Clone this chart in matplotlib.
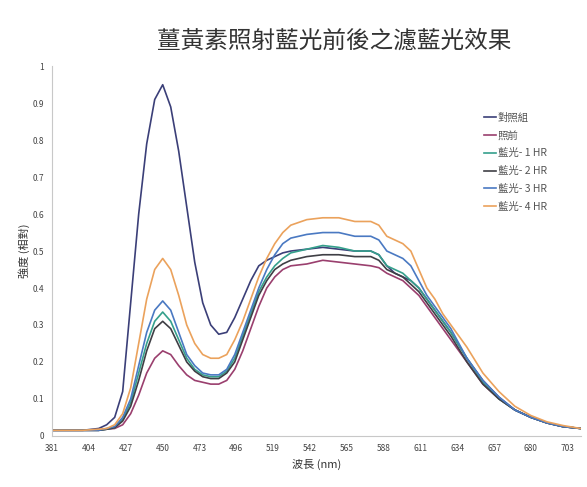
import matplotlib
matplotlib.use('Agg')
import matplotlib.pyplot as plt

plt.rcParams['font.family'] = ['Noto Sans CJK TC', 'DejaVu Sans']

# wavelength (nm)
wl = [381, 390, 400, 410, 415, 420, 425, 430, 435, 440, 445, 450, 455, 460, 465, 470,
      475, 480, 485, 490, 495, 500, 505, 510, 515, 520, 525, 530, 540, 550, 560, 570,
      580, 585, 590, 595, 600, 605, 610, 615, 620, 625, 630, 640, 650, 660, 670, 680,
      690, 700, 711]

control = [0.015, 0.015, 0.015, 0.02, 0.03, 0.05, 0.12, 0.36, 0.60, 0.79, 0.91, 0.95, 0.89, 0.77, 0.62, 0.47,
           0.36, 0.30, 0.275, 0.28, 0.32, 0.37, 0.42, 0.46, 0.475, 0.485, 0.495, 0.50, 0.505, 0.51, 0.505, 0.50,
           0.50, 0.49, 0.46, 0.44, 0.43, 0.42, 0.40, 0.37, 0.34, 0.31, 0.28, 0.21, 0.15, 0.105, 0.07, 0.05,
           0.035, 0.025, 0.02]
before = [0.015, 0.015, 0.015, 0.015, 0.018, 0.02, 0.03, 0.06, 0.11, 0.17, 0.21, 0.23, 0.22, 0.19, 0.165, 0.15,
          0.145, 0.14, 0.14, 0.15, 0.18, 0.23, 0.29, 0.35, 0.40, 0.43, 0.45, 0.46, 0.465, 0.475, 0.47, 0.465,
          0.46, 0.455, 0.44, 0.43, 0.42, 0.40, 0.38, 0.35, 0.32, 0.29, 0.26, 0.20, 0.14, 0.10, 0.07, 0.05,
          0.035, 0.025, 0.02]
hr1 = [0.015, 0.015, 0.015, 0.015, 0.018, 0.022, 0.045, 0.09, 0.17, 0.25, 0.31, 0.335, 0.31, 0.26, 0.21, 0.18,
       0.165, 0.16, 0.16, 0.175, 0.21, 0.27, 0.33, 0.39, 0.43, 0.46, 0.48, 0.495, 0.505, 0.515, 0.51, 0.50,
       0.50, 0.49, 0.46, 0.45, 0.44, 0.42, 0.40, 0.37, 0.34, 0.31, 0.28, 0.21, 0.145, 0.10, 0.07, 0.05,
       0.035, 0.025, 0.02]
hr2 = [0.015, 0.015, 0.015, 0.015, 0.018, 0.022, 0.04, 0.08, 0.15, 0.23, 0.29, 0.31, 0.29, 0.245, 0.20, 0.175,
       0.16, 0.155, 0.155, 0.17, 0.20, 0.26, 0.32, 0.38, 0.42, 0.45, 0.465, 0.475, 0.485, 0.49, 0.49, 0.485,
       0.485, 0.475, 0.45, 0.44, 0.43, 0.41, 0.39, 0.36, 0.33, 0.30, 0.27, 0.20, 0.14, 0.10, 0.07, 0.05,
       0.035, 0.025, 0.02]
hr3 = [0.015, 0.015, 0.015, 0.015, 0.02, 0.025, 0.05, 0.10, 0.19, 0.28, 0.34, 0.365, 0.34, 0.28, 0.22, 0.19,
       0.17, 0.165, 0.165, 0.18, 0.22, 0.28, 0.34, 0.40, 0.45, 0.49, 0.52, 0.535, 0.545, 0.55, 0.55, 0.54,
       0.54, 0.53, 0.50, 0.49, 0.48, 0.46, 0.42, 0.38, 0.35, 0.32, 0.29, 0.21, 0.15, 0.105, 0.07, 0.05,
       0.035, 0.025, 0.02]
hr4 = [0.015, 0.015, 0.015, 0.018, 0.02, 0.03, 0.06, 0.13, 0.25, 0.37, 0.45, 0.48, 0.45, 0.38, 0.30, 0.25,
       0.22, 0.21, 0.21, 0.22, 0.26, 0.31, 0.37, 0.43, 0.48, 0.52, 0.55, 0.57, 0.585, 0.59, 0.59, 0.58,
       0.58, 0.57, 0.54, 0.53, 0.52, 0.50, 0.45, 0.40, 0.37, 0.33, 0.30, 0.24, 0.17, 0.12, 0.08, 0.055,
       0.038, 0.028, 0.02]

labels = ['對照組', '照前', '藍光- 1 HR', '藍光- 2 HR', '藍光- 3 HR', '藍光- 4 HR']
series = [control, before, hr1, hr2, hr3, hr4]
colors = ['#3b3f78', '#9a3f6e', '#35a08c', '#3f3f45', '#4a79c2', '#eba25c']

xticks = [381, 404, 427, 450, 473, 496, 519, 542, 565, 588, 611, 634, 657, 680, 703]
yticks = [0, 0.1, 0.2, 0.3, 0.4, 0.5, 0.6, 0.7, 0.8, 0.9, 1]

fig = plt.figure(figsize=(5.87, 4.87), dpi=100)
ax = fig.add_axes([0.089, 0.105, 0.90, 0.759])

for s, lab, c in zip(series, labels, colors):
	ax.plot(wl, s, color=c, lw=1.2, label=lab)

ax.set_xlim(381, 711)
ax.set_ylim(0, 1)
ax.set_xticks(xticks)
ax.set_xticklabels([str(t) for t in xticks], fontsize=6, color='#444444')
ax.set_yticks(yticks)
ax.set_yticklabels(['0'] + ['%.1f' % t for t in yticks[1:-1]] + ['1'], fontsize=6, color='#444444')
ax.tick_params(length=0, pad=6)

ax.spines['right'].set_visible(False)
ax.spines['top'].set_visible(False)
ax.spines['left'].set_color('#c8c8c8')
ax.spines['bottom'].set_color('#c8c8c8')

ax.set_xlabel('波長 (nm)', fontsize=8, color='#333333')
ax.set_ylabel('強度 (相對)', fontsize=8, color='#333333', labelpad=2)

fig.text(0.57, 0.915, '薑黃素照射藍光前後之濾藍光效果', ha='center', va='center', fontsize=17, color='#333333')

ax.legend(loc='upper left', bbox_to_anchor=(0.80, 0.90), frameon=False, fontsize=7.5,
          handlelength=1.1, handletextpad=0.2, labelspacing=0.75, labelcolor='#555555')

plt.savefig('out.png', dpi=100)
